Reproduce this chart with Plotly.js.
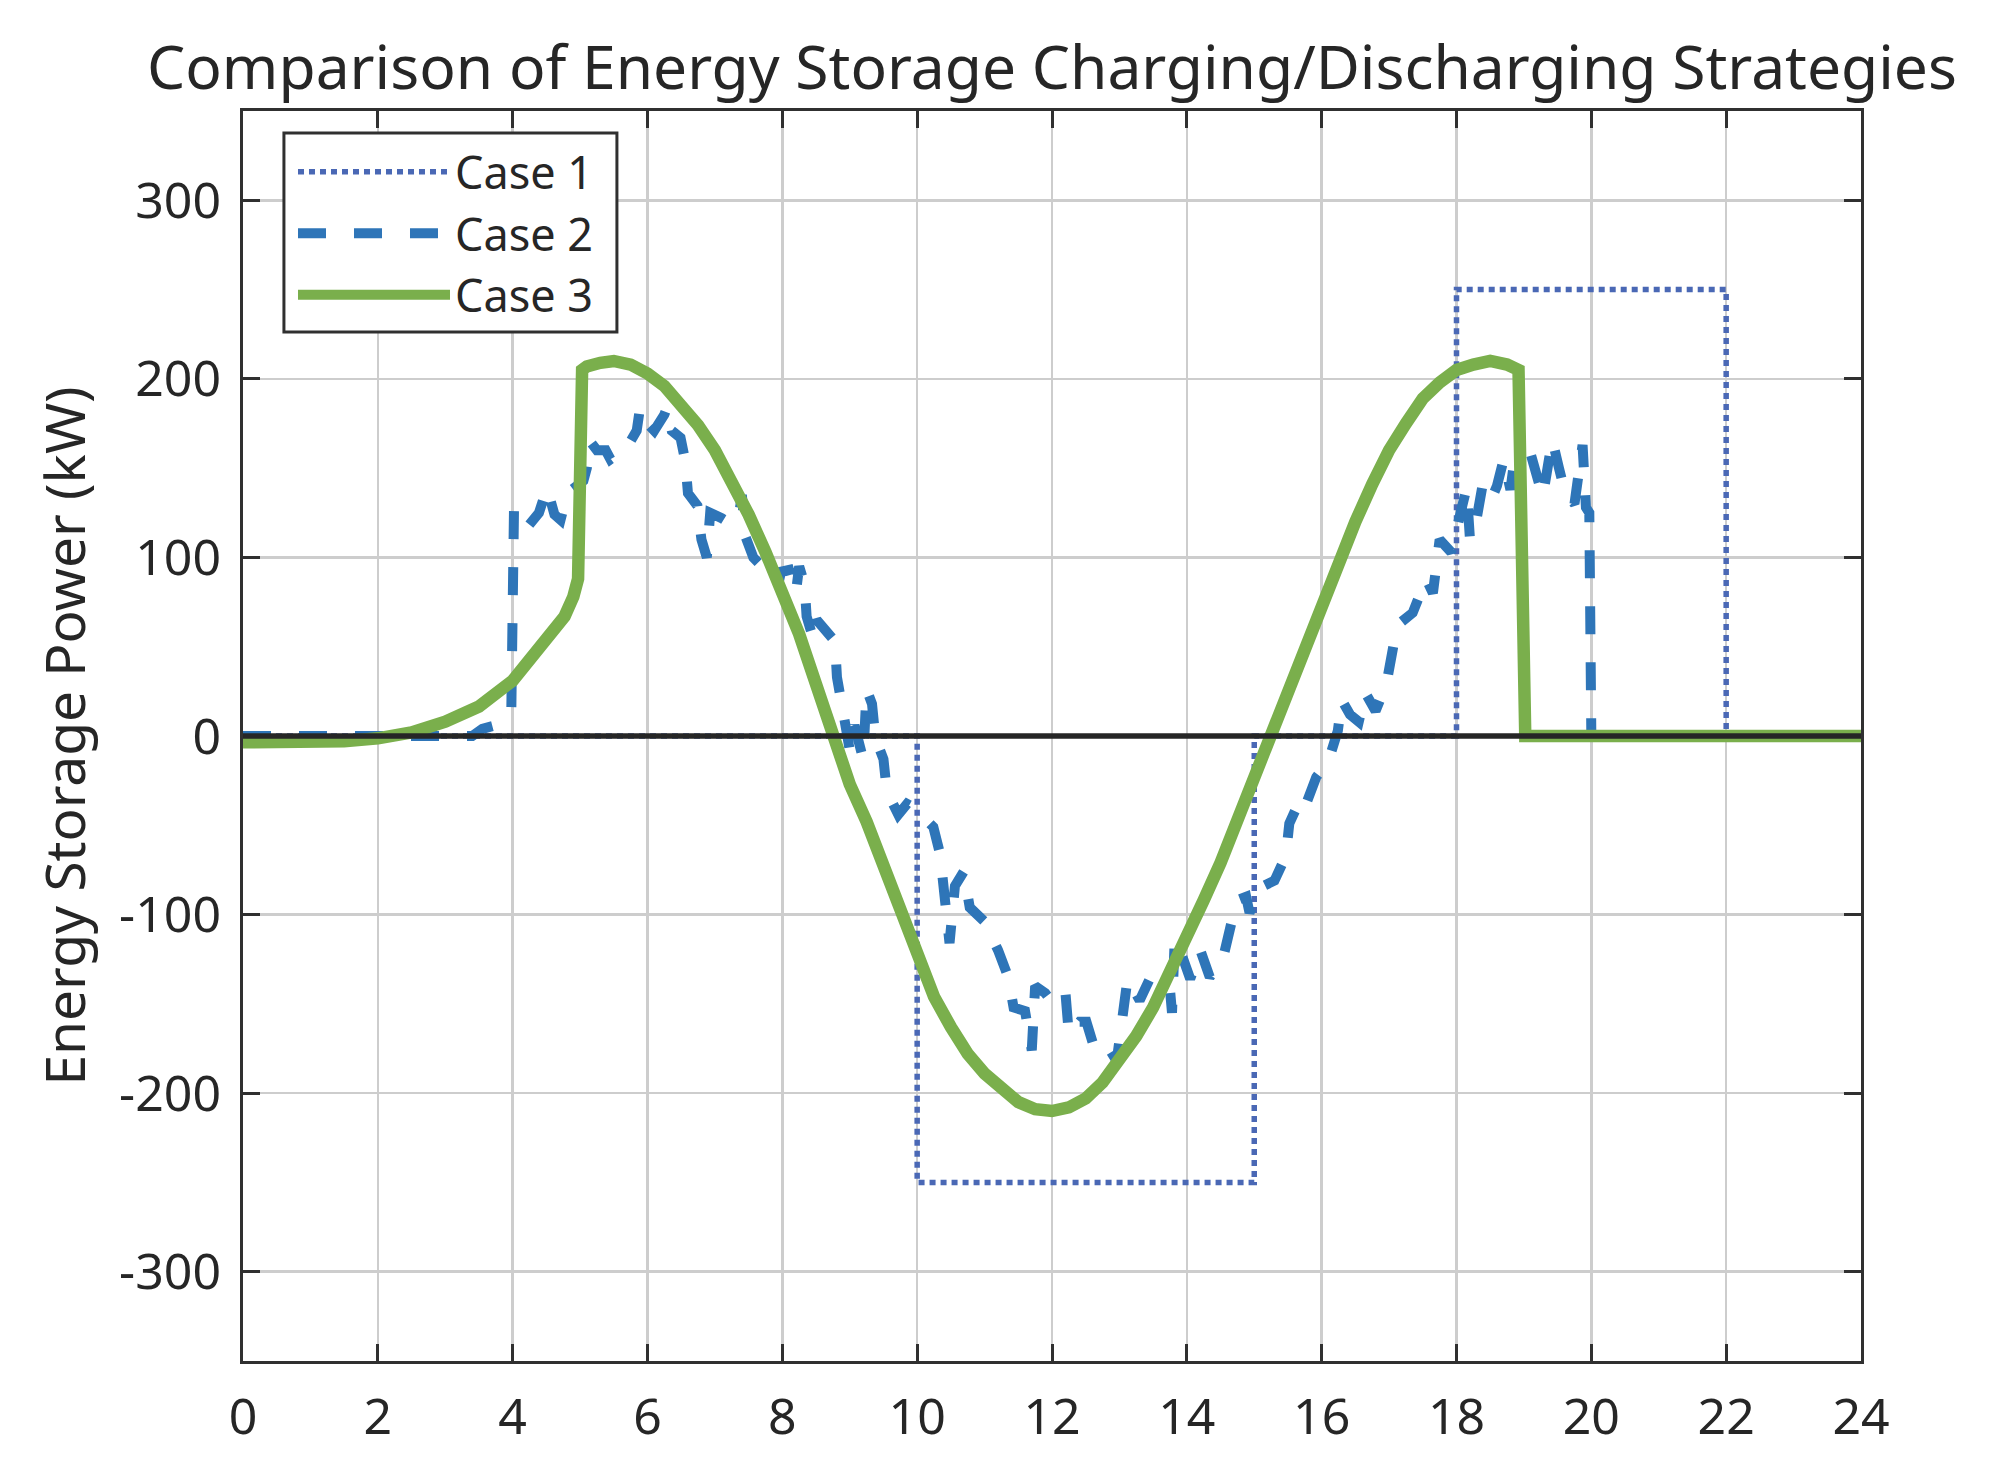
<!DOCTYPE html>
<html>
<head>
<meta charset="utf-8">
<script src="https://cdn.plot.ly/plotly-3.0.1.min.js"></script>
<style>
  html, body { margin: 0; padding: 0; background: #ffffff; }
  #chart { width: 1991px; height: 1467px; }
</style>
</head>
<body>
<div id="chart"></div>
<script>
// ---- Data (hours, kW) ----
const case1Hours = [0, 10, 10, 15, 15, 18, 18, 22, 22, 24];
const case1Power = [0, 0, -250, -250, 0, 0, 250, 250, 0, 0];

const case2Hours = [0, 1, 2, 3, 3.4, 3.55, 3.75, 3.9, 3.98, 4.02, 4.12, 4.24, 4.39, 4.51, 4.62, 4.71, 4.81, 4.95, 5.05, 5.1, 5.15, 5.25, 5.38, 5.45, 5.6, 5.7, 5.84, 5.89, 6.0, 6.1, 6.25, 6.29, 6.36, 6.49, 6.56, 6.6, 6.74, 6.8, 6.88, 6.93, 7.1, 7.23, 7.35, 7.4, 7.45, 7.57, 7.7, 7.85, 7.94, 7.98, 8.1, 8.2, 8.25, 8.33, 8.36, 8.47, 8.51, 8.65, 8.78, 8.81, 8.86, 8.95, 9.0, 9.07, 9.2, 9.25, 9.33, 9.38, 9.5, 9.55, 9.72, 9.85, 9.95, 10.09, 10.24, 10.34, 10.44, 10.48, 10.56, 10.69, 10.78, 11.0, 11.2, 11.35, 11.43, 11.6, 11.7, 11.75, 11.9, 12.02, 12.2, 12.25, 12.41, 12.51, 12.63, 12.81, 12.96, 13.0, 13.08, 13.12, 13.3, 13.45, 13.6, 13.75, 13.78, 13.82, 13.92, 14.05, 14.2, 14.34, 14.54, 14.64, 14.74, 14.88, 14.93, 15.08, 15.3, 15.47, 15.52, 15.7, 15.77, 15.92, 16.1, 16.24, 16.3, 16.42, 16.55, 16.65, 16.8, 16.96, 17.05, 17.12, 17.35, 17.5, 17.55, 17.65, 17.7, 17.75, 17.92, 18.02, 18.1, 18.15, 18.2, 18.3, 18.38, 18.5, 18.6, 18.7, 18.8, 18.85, 19.1, 19.22, 19.28, 19.35, 19.42, 19.52, 19.62, 19.75, 19.82, 19.87, 19.92, 19.97, 20.0, 22, 24];
const case2Power = [0, 0, 0, 0, 0, 4, 6, 12, 15, 128, 125, 118, 125, 139, 124, 121, 136, 140, 143, 150, 165, 160, 160, 155, 160, 162, 171, 184, 175, 171, 180, 184, 171, 167, 154, 136, 129, 110, 100, 125, 122, 119, 122, 135, 112, 100, 95, 90, 85, 92, 93, 80, 95, 85, 67, 53, 65, 58, 53, 33, 19, 3, -8, 6, -13, 26, 18, -1, -13, -31, -44, -38, -40, -46, -51, -66, -99, -116, -84, -76, -96, -104, -120, -135, -152, -154, -176, -140, -144, -150, -144, -167, -160, -160, -175, -173, -182, -170, -155, -136, -148, -136, -139, -142, -155, -114, -122, -136, -120, -135, -124, -109, -92, -90, -99, -85, -81, -67, -49, -34, -38, -23, -14, 3, 20, 12, 8, 24, 14, 29, 47, 62, 69, 82, 88, 80, 100, 110, 103, 118, 130, 139, 110, 122, 139, 131, 140, 155, 138, 152, 158, 140, 134, 150, 166, 150, 135, 130, 155, 163, 128, 125, 0, 0, 0];

const case3Hours = [0, 0.5, 1, 1.5, 2, 2.5, 3, 3.5, 4, 4.5, 4.77, 4.9, 4.97, 5.03, 5.1, 5.3, 5.5, 5.75, 6, 6.25, 6.5, 6.75, 7, 7.25, 7.5, 7.75, 8, 8.25, 8.5, 8.75, 9, 9.25, 9.5, 9.75, 10, 10.25, 10.5, 10.75, 11, 11.25, 11.5, 11.75, 12, 12.25, 12.5, 12.75, 13, 13.25, 13.5, 13.75, 14, 14.25, 14.5, 14.75, 15, 15.25, 15.5, 15.75, 16, 16.25, 16.5, 16.75, 17, 17.25, 17.5, 17.75, 18, 18.25, 18.5, 18.75, 18.92, 19.02, 20, 22, 24];
const case3Power = [-3.5, -3.5, -3.5, -3, -1.3, 2, 8, 16.5, 31, 53, 67, 78, 88, 205, 207, 209, 210, 208, 203, 196, 186, 174, 160, 143, 124, 103, 82, 57, 29, 1, -27, -48, -72, -98, -124, -146, -163, -178, -189, -198, -205, -209, -210, -208, -203, -194, -182, -168, -152, -133, -112, -92, -71, -47, -24, 1, 24, 50, 75, 99, 120, 141, 160, 175, 189, 198, 205, 208, 210, 208, 205, 0, 0, 0, 0];

const seriesNames = ['Case 1', 'Case 2', 'Case 3'];
const xTickValues = [0, 2, 4, 6, 8, 10, 12, 14, 16, 18, 20, 22, 24];
const yTickValues = [-300, -200, -100, 0, 100, 200, 300];

const chartTitle = 'Comparison of Energy Storage Charging/Discharging Strategies';
const yAxisTitle = 'Energy Storage Power (kW)';

const FONT = '"Noto Sans", "Open Sans", "DejaVu Sans", sans-serif';
const TEXT = '#262626';
const FRAME = '#303030';

const traces = [
  {
    x: case1Hours, y: case1Power, name: seriesNames[0], type: 'scatter', mode: 'lines',
    line: { color: '#4A68B5', width: 5.5, dash: '6px,5px' }
  },
  {
    x: case2Hours, y: case2Power, name: seriesNames[1], type: 'scatter', mode: 'lines',
    line: { color: '#2E75B8', width: 10, dash: '28px,28px' }
  },
  {
    x: case3Hours, y: case3Power, name: seriesNames[2], type: 'scatter', mode: 'lines',
    line: { color: '#7AAF4C', width: 12.5 }
  }
];

const axisCommon = {
  showline: true, mirror: 'ticks', linecolor: FRAME, linewidth: 3,
  ticks: 'inside', ticklen: 17, tickwidth: 3, tickcolor: FRAME,
  showgrid: true, gridcolor: '#CDCDCD', gridwidth: 2.5,
  zeroline: false,
  tickfont: { family: FONT, size: 50, color: TEXT },
  automargin: false
};

const layout = {
  width: 1991, height: 1467,
  paper_bgcolor: '#ffffff', plot_bgcolor: '#ffffff',
  margin: { l: 243, r: 130, t: 111, b: 106 },
  showlegend: true,
  title: {
    text: chartTitle,
    font: { family: FONT, size: 60.5, color: TEXT },
    x: 0.5, xanchor: 'center', xref: 'paper',
    y: 1 - 68 / 1467, yanchor: 'middle', yref: 'container'
  },
  xaxis: Object.assign({}, axisCommon, {
    range: [0, 24], tickvals: xTickValues, ticktext: xTickValues.map(String),
    ticklabelstandoff: 10
  }),
  yaxis: Object.assign({}, axisCommon, {
    range: [-350, 350], tickvals: yTickValues, ticktext: yTickValues.map(String),
    ticklabelstandoff: 9,
    title: { text: yAxisTitle, font: { family: FONT, size: 55, color: TEXT }, standoff: 16 }
  }),
  legend: {
    x: 0.0309, y: 0.980, xanchor: 'left', yanchor: 'top',
    bgcolor: 'rgba(0,0,0,0)', borderwidth: 0,
    font: { family: FONT, size: 45, color: TEXT },
    itemwidth: 152, tracegroupgap: 0
  },
  shapes: [
    // black reference line at zero
    { type: 'line', xref: 'paper', x0: 0, x1: 1, yref: 'y', y0: 0, y1: 0,
      line: { color: '#262626', width: 5.5 }, layer: 'above' },
    // legend frame
    { type: 'rect', xref: 'paper', yref: 'paper', x0: 0.0253, x1: 0.2311, y0: 0.8232, y1: 0.9824,
      fillcolor: '#ffffff', line: { color: FRAME, width: 3 }, layer: 'above' }
  ]
};

Plotly.newPlot('chart', traces, layout, { staticPlot: true, displayModeBar: false });
</script>
</body>
</html>
